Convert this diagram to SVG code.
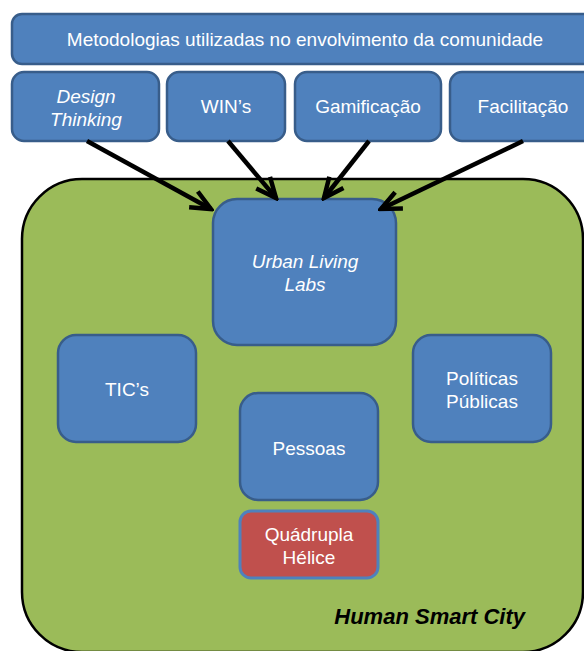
<svg xmlns="http://www.w3.org/2000/svg" width="584" height="651" viewBox="0 0 584 651">
<style>
.box{fill:#4F81BD;stroke:#385D8A;stroke-width:2.5}
.t{font-family:"Liberation Sans",Arial,sans-serif;font-size:19px;fill:#FFFFFF;text-anchor:middle}
.i{font-style:italic}
.arr{stroke:#000;stroke-width:4.5;fill:none;marker-end:url(#ah)}
</style>
<defs>
<marker id="ah" viewBox="-24 -13 27 26" refX="0" refY="0" markerWidth="27" markerHeight="26" orient="auto" markerUnits="userSpaceOnUse">
<path d="M-20,-9 L0,0 L-20,9" fill="none" stroke="#000" stroke-width="4.5" stroke-linejoin="miter" stroke-linecap="butt"/>
</marker>
</defs>
<rect width="584" height="651" fill="#FFFFFF"/>
<g id="human-smart-city">
<rect x="22" y="179" width="561" height="473" rx="60" fill="#9BBB59" stroke="#000" stroke-width="2.5"/>
<text x="525" y="624" font-family="'Liberation Sans',Arial,sans-serif" font-size="22" font-weight="bold" font-style="italic" fill="#000" text-anchor="end">Human Smart City</text>
</g>
<g id="banner">
<rect class="box" x="12" y="14" width="586" height="50" rx="10"/>
<text class="t" x="305" y="46">Metodologias utilizadas no envolvimento da comunidade</text>
</g>
<g id="design-thinking">
<rect class="box" x="12" y="72" width="147" height="69" rx="12"/>
<text class="t i" x="86" y="103">Design</text>
<text class="t i" x="86" y="126">Thinking</text>
</g>
<g id="wins">
<rect class="box" x="167" y="72" width="118" height="69" rx="12"/>
<text class="t" x="226" y="113">WIN’s</text>
</g>
<g id="gamificacao">
<rect class="box" x="295" y="72" width="146" height="69" rx="12"/>
<text class="t" x="368" y="113">Gamificação</text>
</g>
<g id="facilitacao">
<rect class="box" x="450" y="72" width="146" height="69" rx="12"/>
<text class="t" x="523" y="113">Facilitação</text>
</g>
<g id="urban-living-labs">
<rect class="box" x="213" y="199" width="183" height="146" rx="24"/>
<text class="t i" x="305" y="268">Urban Living</text>
<text class="t i" x="305" y="291">Labs</text>
</g>
<g id="tics">
<rect class="box" x="58" y="335" width="138" height="107" rx="18"/>
<text class="t" x="127" y="396">TIC’s</text>
</g>
<g id="politicas-publicas">
<rect class="box" x="413" y="335" width="138" height="107" rx="18"/>
<text class="t" x="482" y="385">Políticas</text>
<text class="t" x="482" y="408">Públicas</text>
</g>
<g id="pessoas">
<rect class="box" x="240" y="393" width="138" height="107" rx="18"/>
<text class="t" x="309" y="455">Pessoas</text>
</g>
<g id="quadrupla-helice">
<rect x="240" y="511" width="138" height="67" rx="11" fill="#C0504D" stroke="#4F81BD" stroke-width="3"/>
<text class="t" x="309" y="541">Quádrupla</text>
<text class="t" x="309" y="564">Hélice</text>
</g>
<g id="connectors">
<line class="arr" x1="87" y1="141" x2="211" y2="209"/>
<line class="arr" x1="228" y1="141" x2="276" y2="198"/>
<line class="arr" x1="369" y1="141" x2="324" y2="198"/>
<line class="arr" x1="523" y1="141" x2="381" y2="209"/>
</g>
</svg>
